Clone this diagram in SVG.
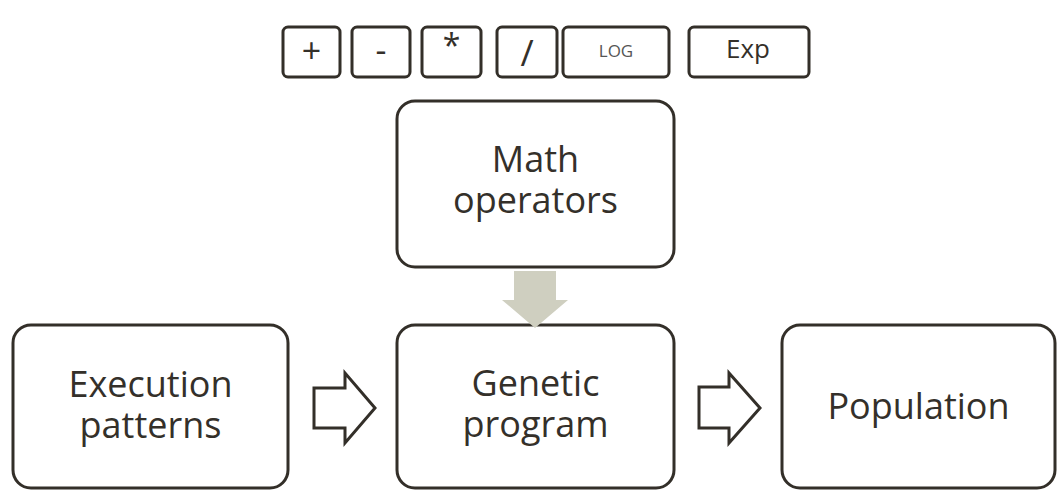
<svg xmlns="http://www.w3.org/2000/svg" width="1057" height="490" viewBox="0 0 1057 490">
<style>
.box{fill:#fff;stroke:#332f29;stroke-width:3}
.op{fill:#fff;stroke:#332f29;stroke-width:3}
.t{font-family:"Open Sans","Noto Sans",sans-serif;fill:#34302a;text-anchor:middle}
.big{font-size:36px}
.hollow{fill:#fff;stroke:#332f29;stroke-width:3;stroke-linejoin:miter}
</style>
<rect width="1057" height="490" fill="#fff"/>
<g id="op-plus"><rect class="op" x="283" y="27" width="57" height="50" rx="5"/><text class="t" x="311.5" y="63" font-size="34">+</text></g>
<g id="op-minus"><rect class="op" x="352" y="27" width="58" height="50" rx="5"/><text class="t" x="381" y="62" font-size="34">-</text></g>
<g id="op-mul"><rect class="op" x="422" y="27" width="59" height="50" rx="5"/><text class="t" x="451.5" y="57" font-size="32">*</text></g>
<g id="op-div"><rect class="op" x="497" y="27" width="60" height="50" rx="5"/><text class="t" x="527" y="66" font-size="36">/</text></g>
<g id="op-log"><rect class="op" x="563" y="27" width="106" height="50" rx="5"/><text class="t" x="616" y="57" font-size="17" style="fill:#555">LOG</text></g>
<g id="op-exp"><rect class="op" x="689" y="27" width="120" height="50" rx="5"/><text class="t" x="748" y="58" font-size="26">Exp</text></g>
<g id="math"><rect class="box" x="397" y="101" width="277" height="166" rx="18"/><text class="t big"><tspan x="535.5" y="172">Math</tspan><tspan x="535.5" y="213">operators</tspan></text></g>
<g id="exec"><rect class="box" x="13" y="325" width="275" height="163" rx="18"/><text class="t big"><tspan x="150.5" y="397">Execution</tspan><tspan x="150.5" y="438">patterns</tspan></text></g>
<g id="genetic"><rect class="box" x="397" y="325" width="277" height="163" rx="18"/><text class="t big"><tspan x="535.5" y="396">Genetic</tspan><tspan x="535.5" y="437">program</tspan></text></g>
<g id="population"><rect class="box" x="782" y="325" width="273" height="163" rx="18"/><text class="t big" x="918.5" y="419">Population</text></g>
<g id="connectors">
<polygon points="514,271 556,271 556,300 568,300 535,328 502,300 514,300" fill="#cfcfc0"/>
<polygon class="hollow" points="314,388 345,388 345,373 375,408 345,443 345,428 314,428"/>
<polygon class="hollow" points="699,387 729,387 729,373 760,408 729,443 729,428 699,428"/>
</g>
</svg>
